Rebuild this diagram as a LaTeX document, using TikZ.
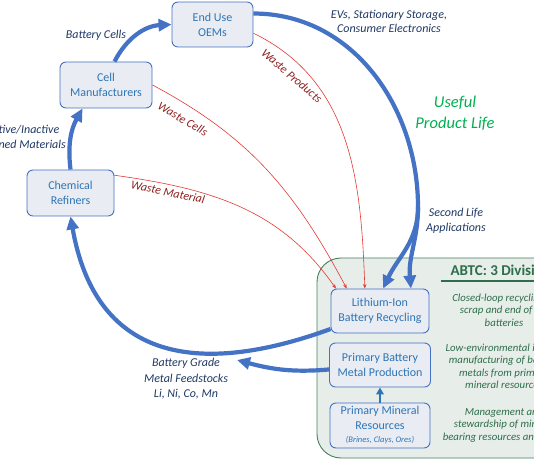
\documentclass[tikz,border=0pt]{standalone}
\usepackage{fontspec}
\setmainfont{Carlito}
\usetikzlibrary{arrows.meta}
\definecolor{flowblue}{RGB}{68,114,196}
\definecolor{boxfill}{RGB}{233,236,242}
\definecolor{boxtext}{RGB}{46,117,182}
\definecolor{navy}{RGB}{32,56,100}
\definecolor{wastered}{RGB}{226,56,52}
\definecolor{wastetext}{RGB}{140,32,32}
\definecolor{lifegreen}{RGB}{0,176,80}
\definecolor{abtcfill}{RGB}{231,237,233}
\definecolor{abtcline}{RGB}{70,130,95}
\definecolor{abtctext}{RGB}{46,110,74}

\begin{document}
\begin{tikzpicture}[x=1pt, y=1pt,
    stage/.style={draw=flowblue, fill=boxfill, rounded corners=6pt, line width=0.9pt, align=center, text=boxtext, font=\fontsize{12}{15}\selectfont, inner sep=2pt},
    flow/.style={-{Triangle[length=13pt,width=12pt]}, line width=4.2pt, flowblue},
    feed/.style={-{Triangle[length=7pt,width=7.5pt]}, line width=2.4pt, boxtext},
    waste/.style={-{Stealth[length=4.5pt,width=3.5pt]}, line width=0.6pt, wastered},
    wastelbl/.style={font=\itshape\fontsize{12}{14}\selectfont, text=wastetext},
    lbl/.style={font=\itshape\fontsize{12}{15.5}\selectfont, text=navy, align=center},
    division/.style={font=\itshape\fontsize{10.8}{12.5}\selectfont, text=abtctext, align=center}
]
\useasboundingbox (0,0) rectangle (534,462);
\clip (0,0) rectangle (534,462);

\draw[abtcline, fill=abtcfill, line width=0.9pt, rounded corners=24pt] (317,4) rectangle (580,204);
\node[anchor=west, font=\bfseries\fontsize{15}{18}\selectfont, text=abtctext] (abtc) at (447,192) {ABTC: 3 Divisions};
\draw[abtctext, line width=2pt] (441,181) -- (580,181);

\node[stage, minimum width=81pt, minimum height=45pt] (oem) at (212.5,437.5) {End Use\\OEMs};
\node[stage, minimum width=92pt, minimum height=46pt] (cell) at (106,377) {Cell\\Manufacturers};
\node[stage, minimum width=87pt, minimum height=46pt] (chem) at (70.5,269) {Chemical\\Refiners};
\node[stage, minimum width=98pt, minimum height=44pt] (liion) at (380,151) {Lithium-Ion\\Battery Recycling};
\node[stage, minimum width=101pt, minimum height=44pt] (pbm) at (380,97) {Primary Battery\\Metal Production};
\node[stage, minimum width=100pt, minimum height=45pt] (pmr) at (380,36.5) {Primary Mineral\\Resources\\[-2pt]{\fontsize{8.5}{10}\selectfont\itshape (Brines, Clays, Ores)}};

\node[division] (recycle) at (504,152) {Closed-loop recycling of\\scrap and end of life\\batteries};
\node[division] (produce) at (504,95.5) {Low-environmental impact\\manufacturing of battery\\metals from primary\\mineral resources};
\node[division] (steward) at (504,37) {Management and\\stewardship of mineral\\bearing resources and lands};

\node[lbl] (cells) at (96,427) {Battery Cells};
\node[lbl, font=\itshape\fontsize{12}{14}\selectfont] (evs) at (389,441) {EVs, Stationary Storage,\\Consumer Electronics};
\node[lbl, text=lifegreen, font=\itshape\fontsize{16.5}{21}\selectfont] (useful) at (455,349) {Useful\\Product Life};
\node[lbl] (second) at (456,241) {Second Life\\Applications};
\node[lbl] (grade) at (186,83) {Battery Grade\\Metal Feedstocks\\Li, Ni, Co, Mn};
\node[lbl] (refined) at (23,324.5) {Active/Inactive\\Refined Materials};

\node[wastelbl, rotate=-41] (wprod) at (292,386) {Waste Products};
\node[wastelbl, rotate=-30] (wcell) at (183,343) {Waste Cells};
\node[wastelbl, rotate=-12] (wmat) at (168,270) {Waste Material};

\coordinate (split) at (418,255);
\coordinate (merge) at (237,102);

\draw[waste] (oem.-12) to[out=-26, in=92] (liion.124);
\draw[waste] (cell.east) to[out=-28, in=118] (liion.146);
\draw[waste] (chem.22) to[out=-8, in=125] (liion.153);

\draw[flow] (chem.north) to[bend left=18] (cell.-135);
\draw[flow] (cell.70) to[bend left=30] (oem.west);
\draw[flow] (oem.15) to[out=0, in=90] (split) to[out=-90, in=95] (liion.36);
\draw[flow] (split) to[out=-90, in=65] (liion.82);
\draw[flow] (liion.-160) to[out=200, in=-80, looseness=1.3] (chem.south);
\draw[flow] (pbm.-175) to[out=185, in=-15] (merge);
\draw[feed] (pmr.north) -- (pbm.south);
\end{tikzpicture}
\end{document}
